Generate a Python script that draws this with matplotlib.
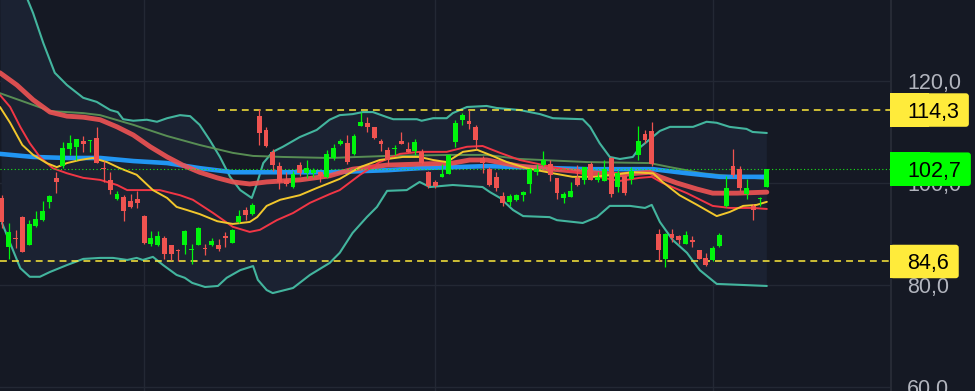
import numpy as np
import matplotlib
matplotlib.use("Agg")
import matplotlib.pyplot as plt
from matplotlib.patches import FancyBboxPatch, Rectangle

# ---------------- data ----------------
opens = [97.1, 87.5, 89.3, 93.4, 87.9, 91.5, 92.7, 96.3, 101.0, 103.3,
         106.7, 107.1, 108.2, 108.2, 108.8, 103.0, 100.6, 96.8, 97.3, 96.4,
         96.8, 93.5, 88.0, 87.8, 89.3, 87.8, 86.9, 87.8, 86.8, 87.9,
         87.1, 87.8, 87.8, 89.4, 88.3, 92.3, 94.7, 94.0, 113.2, 110.4,
         106.1, 103.3, 100.6, 99.3, 103.5, 101.9, 102.0, 102.2, 101.2, 104.8,
         107.7, 107.8, 105.7, 111.2, 111.7, 110.9, 108.2, 106.5, 106.7, 108.2,
         106.7, 106.3, 106.1, 102.1, 100.1, 101.2, 101.8, 108.1, 112.3, 112.1,
         110.9, 104.8, 102.7, 101.1, 97.4, 96.3, 96.7, 97.6, 99.8, 102.2,
         103.5, 103.8, 100.9, 97.1, 97.3, 100.9, 100.6, 103.7, 100.6, 100.4,
         104.8, 99.3, 101.4, 100.7, 105.4, 109.6, 110.2, 89.9, 85.1, 89.9,
         89.6, 88.1, 88.9, 86.8, 85.2, 84.8, 87.6, 95.4, 103.3, 102.7,
         97.8, 95.5, 96.9, 99.3]
highs = [97.6, 92.1, 90.8, 93.5, 92.7, 94.5, 96.5, 97.6, 102.2, 108.1,
         109.4, 108.6, 109.2, 108.4, 111.0, 104.3, 102.1, 98.5, 97.6, 97.8,
         98.5, 93.7, 90.6, 90.6, 89.6, 87.9, 87.0, 90.8, 88.0, 91.3,
         88.1, 89.3, 89.1, 90.3, 90.9, 94.7, 95.2, 96.0, 114.6, 110.9,
         106.6, 104.1, 102.1, 102.4, 104.1, 104.5, 102.9, 102.3, 106.5, 107.6,
         108.6, 109.4, 109.6, 114.0, 113.0, 111.0, 108.6, 107.0, 107.4, 109.9,
         108.1, 108.6, 106.6, 102.4, 100.6, 103.8, 105.5, 112.3, 113.7, 114.3,
         111.4, 105.3, 103.2, 102.2, 98.2, 97.9, 97.9, 98.5, 102.9, 103.7,
         106.3, 104.5, 101.0, 98.2, 100.1, 103.5, 103.2, 104.2, 102.2, 104.5,
         105.0, 102.5, 101.6, 103.2, 111.2, 110.4, 111.9, 90.9, 90.1, 90.9,
         89.7, 90.6, 89.5, 86.9, 86.2, 87.6, 90.1, 101.3, 106.6, 103.3,
         100.7, 95.9, 97.2, 102.7]
lows = [91.1, 85.0, 87.2, 86.4, 87.8, 91.4, 92.6, 95.0, 98.1, 102.9,
        105.4, 104.6, 106.1, 106.1, 104.0, 100.2, 97.8, 96.7, 92.6, 95.0,
        95.0, 88.1, 87.6, 87.7, 85.0, 84.9, 84.7, 86.1, 84.1, 87.8,
        85.9, 87.7, 86.6, 87.5, 88.2, 92.2, 92.7, 93.7, 107.4, 107.1,
        102.4, 98.9, 99.4, 99.1, 101.4, 100.9, 101.2, 100.2, 100.9, 104.6,
        107.4, 103.8, 105.5, 111.1, 109.9, 108.7, 106.3, 103.6, 105.5, 107.6,
        106.0, 105.5, 103.8, 99.1, 99.1, 101.1, 101.7, 107.0, 111.4, 110.6,
        106.6, 102.0, 99.5, 98.5, 95.5, 95.5, 96.5, 96.5, 98.1, 101.6,
        103.4, 100.3, 96.8, 96.1, 97.2, 99.5, 99.8, 100.5, 100.1, 100.3,
        97.3, 98.3, 97.6, 99.7, 104.5, 107.9, 103.3, 84.6, 83.6, 88.5,
        88.1, 88.0, 87.5, 85.0, 83.8, 84.6, 87.4, 95.3, 101.1, 98.5,
        96.9, 92.7, 95.5, 99.3]
closes = [92.4, 90.4, 89.0, 86.5, 91.9, 92.9, 94.5, 97.4, 100.2, 106.8,
          107.9, 108.6, 107.7, 108.4, 104.0, 102.8, 98.6, 97.9, 94.5, 95.3,
          96.1, 88.3, 89.3, 89.5, 86.1, 86.1, 86.7, 90.6, 86.9, 91.2,
          87.0, 88.6, 87.0, 89.3, 90.8, 93.5, 93.7, 95.7, 109.7, 107.3,
          103.5, 100.1, 99.7, 101.8, 101.9, 102.9, 102.5, 101.4, 105.7, 106.8,
          108.2, 104.2, 109.2, 111.9, 111.0, 108.9, 107.7, 104.6, 106.8, 107.7,
          106.1, 108.0, 104.0, 99.5, 99.5, 101.8, 105.5, 111.8, 113.3, 111.6,
          108.4, 104.0, 99.6, 99.1, 96.1, 97.4, 97.6, 98.2, 102.7, 102.7,
          104.5, 101.6, 98.1, 97.8, 98.4, 99.6, 103.1, 100.6, 101.2, 102.7,
          97.8, 101.9, 98.1, 102.4, 108.2, 108.4, 103.8, 86.8, 89.9, 89.3,
          88.9, 89.8, 88.4, 85.1, 83.9, 87.3, 89.8, 99.1, 101.6, 99.1,
          99.1, 94.7, 97.1, 102.7]

# indicator lines: (bar index, price)
bb_upper = [(-0.3, 147.0), (2.5, 140.0), (3.8, 135.9), (4.6, 133.3), (6.1, 127.45), (7.8, 121.6),
            (9.6, 119.2), (12.0, 116.7), (14.0, 115.9), (16.0, 114.3), (17.1, 113.9), (17.9, 112.5),
            (19.4, 112.2), (21.4, 112.4), (22.9, 112.0), (24.4, 112.7), (26.3, 113.3), (27.8, 113.1),
            (29.2, 111.4), (30.7, 108.4), (32.2, 105.1), (33.7, 101.2), (35.2, 98.6), (36.9, 97.05),
            (37.7, 100.0), (38.6, 103.9), (40.0, 106.1), (41.5, 107.1), (44.0, 109.0), (46.5, 110.4),
            (48.4, 112.4), (49.9, 113.3), (51.8, 113.5), (53.3, 113.9), (54.8, 113.9), (56.9, 112.9),
            (57.8, 112.5), (61.3, 112.5), (62.0, 112.2), (63.7, 112.7), (65.7, 112.7), (66.6, 113.7),
            (68.7, 114.9), (71.6, 115.1), (73.1, 114.7), (76.5, 114.3), (79.5, 113.5), (81.4, 112.7),
            (85.8, 112.5), (86.9, 111.0), (88.3, 107.8), (89.8, 105.1), (91.3, 104.7), (93.2, 105.1),
            (94.2, 106.9), (97.2, 110.2), (98.7, 111.0), (102.1, 111.0), (104.1, 112.0), (105.6, 111.8),
            (107.5, 111.0), (110.0, 110.6), (110.9, 110.0), (113.0, 109.8)]
bb_lower = [(0.0, 92.15), (1.2, 88.2), (2.7, 83.3), (4.1, 81.6), (5.6, 81.6), (7.1, 82.55),
            (9.6, 83.9), (12.0, 85.1), (14.5, 85.3), (16.4, 85.3), (18.5, 84.9), (19.9, 85.3),
            (20.8, 84.9), (22.3, 85.5), (23.8, 83.9), (25.8, 81.96), (27.0, 81.4), (28.1, 80.4),
            (30.0, 79.6), (31.9, 79.8), (33.2, 81.4), (35.2, 82.9), (37.1, 83.7), (37.8, 81.0),
            (39.1, 79.0), (40.0, 78.4), (43.0, 79.4), (45.5, 81.96), (48.4, 84.3), (49.9, 86.3),
            (51.8, 90.2), (53.9, 93.3), (55.4, 95.3), (56.9, 98.45), (59.8, 98.6), (61.7, 100.2),
            (63.2, 99.2), (66.6, 99.6), (71.0, 99.2), (72.1, 98.2), (73.6, 97.05), (75.5, 94.7),
            (77.0, 93.5), (80.9, 93.3), (82.0, 92.7), (85.8, 92.15), (87.9, 93.3), (89.8, 95.5),
            (92.8, 95.5), (95.0, 95.1), (96.0, 95.7), (97.2, 92.35), (99.1, 88.8), (101.2, 86.3),
            (103.1, 82.9), (105.6, 80.2), (113.0, 79.8)]
ma_blue = [(-0.3, 105.7), (4.6, 105.1), (9.6, 104.9), (14.5, 104.9), (19.4, 104.3), (24.4, 103.9),
           (29.2, 102.9), (34.1, 102.1), (38.1, 102.1), (48.4, 102.1), (56.9, 102.5), (61.7, 102.9),
           (71.6, 103.3), (76.5, 103.1), (86.4, 102.7), (96.2, 102.7), (101.2, 101.9), (106.1, 101.2),
           (113.0, 101.2)]
ma_red_thick = [(-0.3, 121.6), (2.2, 119.2), (4.6, 116.3), (7.1, 113.9), (9.6, 113.1), (12.0, 112.9),
                (14.5, 112.4), (17.0, 111.0), (19.4, 109.4), (21.9, 107.1), (24.4, 105.1), (26.7, 103.5),
                (29.2, 102.1), (31.8, 101.0), (34.1, 100.2), (36.6, 99.8), (39.1, 100.2), (44.0, 100.6),
                (48.4, 101.4), (51.8, 102.7), (56.9, 103.5), (61.7, 103.7), (66.6, 103.9), (69.1, 104.5),
                (71.6, 104.5), (74.0, 103.9), (76.5, 103.3), (81.4, 102.7), (86.4, 102.1), (91.3, 101.6),
                (93.8, 101.9), (95.7, 102.1), (97.2, 101.2), (99.7, 100.0), (102.7, 98.8), (105.0, 98.0),
                (108.6, 98.0), (113.0, 98.2)]
ma_green = [(-0.3, 117.6), (4.6, 115.3), (7.1, 114.1), (12.0, 113.7), (14.5, 113.3), (19.4, 111.4),
            (24.4, 109.2), (29.2, 107.45), (34.1, 105.9), (37.1, 105.3), (41.5, 105.1), (48.4, 104.9),
            (56.9, 105.3), (66.6, 105.5), (71.6, 105.5), (76.5, 104.7), (86.4, 104.1), (95.7, 103.9),
            (98.7, 103.1), (103.5, 101.9), (108.6, 101.2), (113.0, 100.8)]
ma_red_thin = [(-0.3, 117.25), (1.2, 114.9), (2.7, 111.0), (4.1, 107.8), (5.6, 105.1), (7.5, 102.9),
               (9.6, 101.9), (12.0, 101.0), (14.5, 100.6), (17.0, 99.6), (18.5, 98.6), (23.3, 98.6),
               (26.3, 97.6), (28.2, 96.7), (31.2, 94.1), (34.1, 91.4), (36.6, 90.4), (38.1, 90.8),
               (40.6, 92.7), (43.0, 94.1), (45.5, 96.1), (48.4, 97.8), (49.9, 98.6), (52.9, 101.6),
               (55.8, 104.1), (58.8, 105.7), (61.7, 106.1), (65.7, 106.1), (68.7, 107.1), (71.0, 107.25),
               (73.6, 105.9), (76.5, 104.5), (81.4, 103.1), (86.4, 101.6), (91.3, 100.4), (94.2, 101.0),
               (96.0, 101.2), (97.6, 100.0), (101.2, 98.0), (105.0, 95.5), (107.5, 95.1), (110.9, 95.1),
               (113.0, 94.9)]
ma_yellow = [(-0.3, 114.9), (1.2, 111.8), (3.0, 107.45), (4.6, 105.5), (6.6, 103.9), (8.1, 103.1),
             (9.6, 103.9), (11.5, 104.5), (13.4, 104.9), (15.5, 104.1), (17.4, 102.9), (19.9, 101.6),
             (22.3, 98.6), (24.4, 97.05), (25.8, 95.3), (27.3, 94.7), (29.2, 93.9), (31.8, 92.5),
             (34.1, 91.96), (36.6, 92.35), (37.7, 93.3), (39.1, 95.5), (41.1, 96.7), (44.0, 97.6),
             (46.5, 99.0), (48.4, 100.0), (49.9, 100.8), (52.9, 103.1), (55.8, 104.5), (59.2, 105.1),
             (61.7, 105.1), (63.7, 104.5), (65.7, 104.1), (68.1, 106.1), (70.2, 106.5), (72.1, 105.5),
             (74.6, 104.1), (77.5, 102.9), (81.4, 101.9), (84.3, 101.2), (87.3, 101.2), (90.3, 101.6),
             (93.2, 102.1), (96.2, 101.9), (97.6, 100.2), (100.1, 97.6), (102.7, 95.7), (105.6, 93.5),
             (107.5, 94.3), (109.5, 95.5), (111.5, 95.7), (113.0, 96.3)]

price_ticks = [120.0, 100.0, 80.0, 60.0]
resistance = 114.3
resistance_start = 31.9
support = 84.6
last_price = 102.7
date_grid = [21, 64, 105]

# ---------------- style ----------------
BG = '#151924'
BB_FILL = '#1b2232'
GRID = '#232834'
UP = '#00f50c'
DOWN = '#ef5350'
YELLOW = '#ffeb3b'
LABEL = '#b2b5be'

W, H = 975, 391
PLOT_W = 890
fig = plt.figure(figsize=(W / 100, H / 100), dpi=100, facecolor=BG)
ax = fig.add_axes([0, 0, PLOT_W / W, 1])
ax.set_facecolor(BG)
YLO, YHI = 59.2, 135.88
ax.set_xlim(-0.295, 131.2)
ax.set_ylim(YLO, YHI)
for s in ax.spines.values():
    s.set_visible(False)
ax.set_xticks([])
ax.set_yticks([])

for v in price_ticks:
    ax.axhline(v, color=GRID, lw=1.0, zorder=0)
for g in date_grid:
    ax.axvline(g, color=GRID, lw=1.0, zorder=0)


def unzip(pairs):
    a = np.array(pairs)
    return a[:, 0], a[:, 1]


ux, uy = unzip(bb_upper)
lx, ly = unzip(bb_lower)
ax.fill(np.r_[ux, lx[::-1]], np.r_[uy, ly[::-1]], color=BB_FILL, lw=0, zorder=0.5)
ax.plot(ux, uy, color='#43b59e', lw=1.5, zorder=2, solid_capstyle='round')
ax.plot(lx, ly, color='#43b59e', lw=1.5, zorder=2, solid_capstyle='round')

for pairs, col, lw, al in [
    (ma_green, '#5f9a58', 1.4, 0.9),
    (ma_blue, '#2196f3', 3.3, 1.0),
    (ma_red_thick, '#f05454', 3.5, 0.9),
    (ma_red_thin, '#f23645', 1.4, 1.0),
    (ma_yellow, '#f2c72c', 1.4, 1.0),
]:
    x, y = unzip(pairs)
    ax.plot(x, y, color=col, lw=lw, alpha=al, zorder=2, solid_capstyle='round',
            solid_joinstyle='round')

# horizontal levels
ax.hlines(resistance, resistance_start, 131.2, colors=YELLOW, lw=1.1,
          linestyles=(0, (4.5, 3.3)), zorder=2.5)
ax.hlines(support, -0.3, 131.2, colors=YELLOW, lw=1.1,
          linestyles=(0, (4.5, 3.3)), zorder=2.5)
ax.hlines(last_price, -0.3, 131.2, colors='#19e619', lw=0.8,
          linestyles=(0, (1, 2.2)), zorder=2.5)

# candles
o = np.array(opens)
c = np.array(closes)
h = np.array(highs)
l = np.array(lows)
idx = np.arange(len(o))
cols = np.where(c >= o, UP, DOWN)
ax.vlines(idx, l, h, colors=cols, lw=0.9, zorder=3)
ax.bar(idx, np.maximum(np.abs(c - o), 0.22), bottom=np.minimum(o, c), width=0.72,
       color=cols, lw=0, zorder=3)

# ---------------- price scale ----------------
ax2 = fig.add_axes([PLOT_W / W, 0, (W - PLOT_W) / W, 1])
ax2.set_xlim(0, W - PLOT_W)
ax2.set_ylim(YLO, YHI)
ax2.axis('off')
ax2.axvline(0.5, color='#2a2e39', lw=1.2, zorder=1)


def fmt(v):
    return f"{v:.1f}".replace('.', ',')


FONT = dict(family='Liberation Sans', size=15.5)
for v in price_ticks:
    ax2.text(17, v, fmt(v), color=LABEL, va='center_baseline', ha='left', zorder=2, **FONT)

fig.canvas.draw()
rend = fig.canvas.get_renderer()
px_per_unit = H / (YHI - YLO)
box_h = 33.5 / px_per_unit
for v, colr in [(resistance, YELLOW), (last_price, '#00ff00'), (support, YELLOW)]:
    t = ax2.text(17, v, fmt(v), color='#000000', va='center_baseline', ha='left',
                 zorder=6, **FONT)
    bb = t.get_window_extent(rend)
    right = bb.x1 - PLOT_W + 10
    ax2.add_patch(FancyBboxPatch((0, v - box_h / 2), right, box_h,
                                 boxstyle="round,pad=0,rounding_size=3",
                                 mutation_aspect=1 / px_per_unit,
                                 fc=colr, ec='none', zorder=4))
    ax2.add_patch(Rectangle((0, v - box_h / 2), right / 2, box_h, fc=colr, ec='none', zorder=4))

fig.savefig('out.png', dpi=100, facecolor=BG)
